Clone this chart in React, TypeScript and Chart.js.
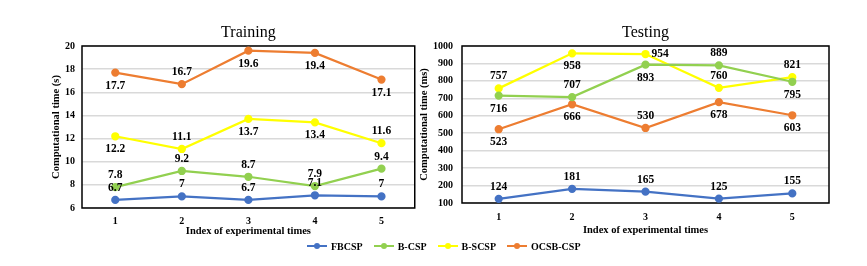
import React, { useEffect, useRef } from "react";
import { Chart, registerables } from "chart.js";

Chart.register(...registerables);

const runs = ["1", "2", "3", "4", "5"];
const seriesNames = ["FBCSP", "B-CSP", "B-SCSP", "OCSB-CSP"];
const seriesColors = ["#4472C4", "#92D050", "#FFFF00", "#ED7D31"];

const trainFBCSP = [6.7, 7, 6.7, 7.1, 7];
const trainBCSP = [7.8, 9.2, 8.7, 7.9, 9.4];
const trainBSCSP = [12.2, 11.1, 13.7, 13.4, 11.6];
const trainOCSB = [17.7, 16.7, 19.6, 19.4, 17.1];

const testFBCSP = [124, 181, 165, 125, 155];
const testBCSP = [716, 707, 893, 889, 795];
const testBSCSP = [757, 958, 954, 760, 821];
const testOCSB = [523, 666, 530, 678, 603];

const trainYTicks = { min: 6, max: 20, step: 2 };
const testYTicks = { min: 100, max: 1000, step: 100 };

// label placement: a = above, b = below, r = right
const trainPlace = [
  ["a", "a", "a", "a", "a"],
  ["a", "a", "a", "a", "a"],
  ["b", "a", "b", "b", "a"],
  ["b", "a", "b", "b", "b"],
];
const testPlace = [
  ["a", "a", "a", "a", "a"],
  ["b", "a", "b", "a", "b"],
  ["a", "b", "r", "a", "a"],
  ["b", "b", "a", "b", "b"],
];

const FONT = "'Liberation Serif', 'Times New Roman', serif";
Chart.defaults.font.family = FONT;
Chart.defaults.color = "#000";

const labelPlugin = {
  id: "pointLabels",
  afterDatasetsDraw(chart: any, _args: any, opts: any) {
    const ctx = chart.ctx;
    const place = opts.place as string[][];
    ctx.save();
    ctx.font = `bold ${opts.size}px ${FONT}`;
    ctx.fillStyle = "#000";
    chart.data.datasets.forEach((ds: any, di: number) => {
      const meta = chart.getDatasetMeta(di);
      meta.data.forEach((pt: any, i: number) => {
        const p = place[di][i];
        let x = pt.x;
        let y = pt.y;
        ctx.textBaseline = "middle";
        ctx.textAlign = "center";
        if (p === "a") y -= opts.offset;
        else if (p === "b") y += opts.offset + 1;
        else {
          ctx.textAlign = "left";
          x += 6;
        }
        ctx.fillText(String(ds.data[i]), x, y);
      });
    });
    ctx.restore();
  },
};

const boxPlugin = {
  id: "plotBox",
  beforeDatasetsDraw(chart: any) {
    const { ctx, chartArea: a } = chart;
    ctx.save();
    ctx.strokeStyle = "#000";
    ctx.lineWidth = 1.5;
    ctx.strokeRect(a.left, a.top, a.right - a.left, a.bottom - a.top);
    ctx.restore();
  },
};

const titlePlugin = {
  id: "panelTitle",
  afterDraw(chart: any, _args: any, opts: any) {
    const { ctx, chartArea: a } = chart;
    ctx.save();
    ctx.font = `16px ${FONT}`;
    ctx.fillStyle = "#000";
    ctx.textAlign = "center";
    ctx.textBaseline = "middle";
    ctx.fillText(opts.text, (a.left + a.right) / 2, opts.y);
    ctx.restore();
  },
};

function makeConfig(
  title: string,
  values: number[][],
  place: string[][],
  ticks: { min: number; max: number; step: number },
  yTitle: string,
  pad: any,
  yWidth: number,
  xHeight: number,
  yTickPad: number,
  xTickPad: number
): any {
  return {
    type: "line",
    data: {
      labels: runs,
      datasets: values.map((v, i) => ({
        label: seriesNames[i],
        data: v,
        borderColor: seriesColors[i],
        backgroundColor: seriesColors[i],
        borderWidth: 2.25,
        pointRadius: 3,
        pointHoverRadius: 3,
        tension: 0,
      })),
    },
    options: {
      responsive: false,
      animation: false,
      devicePixelRatio: 1,
      layout: { padding: pad },
      plugins: {
        legend: { display: false },
        tooltip: { enabled: false },
        title: { display: false },
        pointLabels: { place, size: 11.5, offset: 12 },
        panelTitle: { text: title, y: 33 },
      },
      scales: {
        x: {
          type: "category",
          offset: true,
          grid: { display: false, drawTicks: false },
          border: { display: false },
          ticks: { font: { size: 10, weight: "bold" }, padding: xTickPad, color: "#000" },
          title: {
            display: true,
            text: "Index of experimental times",
            font: { size: 10.5, weight: "bold" },
            padding: { top: 0, bottom: 0 },
            color: "#000",
          },
          afterFit(s: any) {
            s.height = xHeight;
          },
        },
        y: {
          min: ticks.min,
          max: ticks.max,
          grid: { color: "#D9D9D9", lineWidth: 1.5, drawTicks: false },
          border: { display: false },
          ticks: {
            stepSize: ticks.step,
            font: { size: 10, weight: "bold" },
            padding: yTickPad,
            color: "#000",
            callback: (v: any) => String(v),
          },
          title: {
            display: true,
            text: yTitle,
            font: { size: 10.5, weight: "bold" },
            padding: { top: 0, bottom: 0 },
            color: "#000",
          },
          afterFit(s: any) {
            s.width = yWidth;
          },
        },
      },
    },
    plugins: [boxPlugin, labelPlugin, titlePlugin],
  };
}

function Panel(props: { left: number; width: number; config: any }) {
  const ref = useRef<HTMLCanvasElement | null>(null);
  useEffect(() => {
    if (!ref.current) return;
    const chart = new Chart(ref.current, props.config);
    return () => chart.destroy();
  }, []);
  return (
    <canvas
      ref={ref}
      width={props.width}
      height={240}
      style={{ position: "absolute", left: props.left, top: 0, width: props.width, height: 240 }}
    />
  );
}

function LegendItem(props: { name: string; color: string }) {
  return (
    <div style={{ display: "flex", alignItems: "center", marginRight: 11 }}>
      <div style={{ position: "relative", width: 20, height: 8, marginRight: 4 }}>
        <div
          style={{
            position: "absolute",
            left: 0,
            top: 3,
            width: 20,
            height: 2.25,
            background: props.color,
          }}
        />
        <div
          style={{
            position: "absolute",
            left: 7,
            top: 1,
            width: 6,
            height: 6,
            borderRadius: "50%",
            background: props.color,
          }}
        />
      </div>
      <span style={{ fontFamily: FONT, fontWeight: "bold", fontSize: 10, color: "#000" }}>{props.name}</span>
    </div>
  );
}

export default function App() {
  const trainConfig = makeConfig(
    "Training",
    [trainFBCSP, trainBCSP, trainBSCSP, trainOCSB],
    trainPlace,
    trainYTicks,
    "Computational time (s)",
    { left: 50, right: 5, top: 46, bottom: 2 },
    32,
    30,
    7,
    7
  );
  const testConfig = makeConfig(
    "Testing",
    [testFBCSP, testBCSP, testBSCSP, testOCSB],
    testPlace,
    testYTicks,
    "Computational time (ms)",
    { left: 0, right: 38, top: 46, bottom: 3 },
    44,
    34,
    9,
    8
  );
  return (
    <div style={{ position: "absolute", left: 0, top: 0, width: 867, height: 266, background: "#fff" }}>
      <Panel left={0} width={420} config={trainConfig} />
      <Panel left={418} width={449} config={testConfig} />
      <div
        style={{
          position: "absolute",
          left: 307,
          top: 239,
          height: 14,
          display: "flex",
          alignItems: "center",
        }}
      >
        {seriesNames.map((n, i) => (
          <LegendItem key={n} name={n} color={seriesColors[i]} />
        ))}
      </div>
    </div>
  );
}
